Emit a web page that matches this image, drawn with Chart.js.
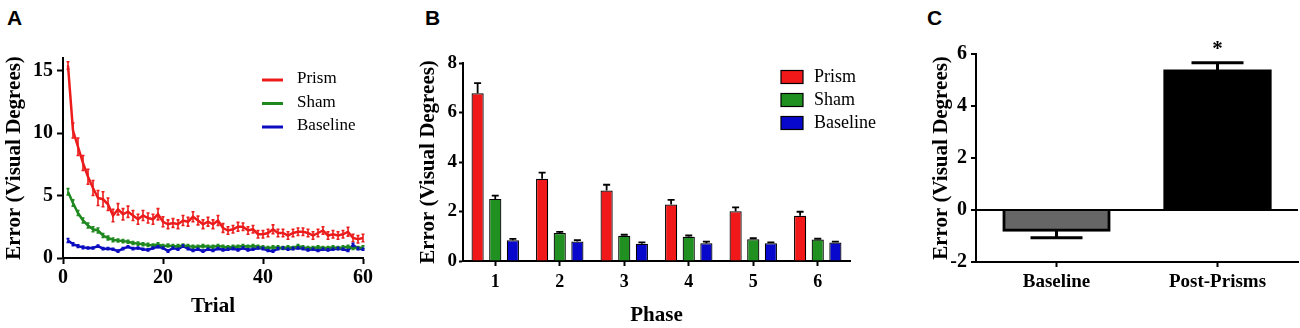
<!DOCTYPE html>
<html><head><meta charset="utf-8">
<script src="https://cdn.jsdelivr.net/npm/chart.js@4.4.1/dist/chart.umd.min.js"></script>
<style>
body{margin:0;background:#fff;width:1300px;height:328px;position:relative;overflow:hidden}
canvas{position:absolute;top:0}
.lbl{position:absolute;font:bold 21px "Liberation Sans",Arial,sans-serif;line-height:21px;color:#000}
</style></head><body>
<div class="lbl" style="left:7px;top:7px">A</div>
<div class="lbl" style="left:425px;top:7px">B</div>
<div class="lbl" style="left:927px;top:7px">C</div>
<canvas id="cA" width="380" height="328" style="left:0"></canvas>
<canvas id="cB" width="490" height="328" style="left:410px"></canvas>
<canvas id="cC" width="400" height="328" style="left:900px"></canvas>
<script>
// ---------- Panel A data ----------
const trials = [1,2,3,4,5,6,7,8,9,10,11,12,13,14,15,16,17,18,19,20,21,22,23,24,25,26,27,28,29,30,31,32,33,34,35,36,37,38,39,40,41,42,43,44,45,46,47,48,49,50,51,52,53,54,55,56,57,58,59,60];
const prism = [15.4,10.2,8.9,7.6,6.5,5.6,4.8,4.7,4.3,3.4, 3.9,3.5,3.7,3.4,3.1,3.4,3.2,3.1,3.5,2.9, 2.7,2.8,2.7,3.0,2.9,3.3,3.0,2.7,2.9,2.7, 3.0,2.4,2.2,2.3,2.5,2.5,2.2,2.3,1.9,1.9, 2.0,2.3,2.0,2.0,1.8,2.0,2.1,2.1,2.0,1.8, 2.0,2.2,1.8,1.9,1.8,1.9,2.1,1.6,1.5,1.6];
const prismErr = [0.3,0.6,0.7,0.6,0.6,0.6,0.6,0.6,0.5,0.5, 0.45,0.45,0.45,0.4,0.4,0.4,0.4,0.4,0.45,0.4, 0.35,0.35,0.35,0.4,0.35,0.4,0.35,0.35,0.35,0.35, 0.4,0.35,0.3,0.3,0.35,0.3,0.3,0.3,0.3,0.3, 0.3,0.35,0.3,0.3,0.3,0.3,0.3,0.3,0.3,0.3, 0.3,0.3,0.3,0.3,0.3,0.3,0.35,0.3,0.3,0.3];
const sham = [5.3,4.4,3.6,3.0,2.6,2.3,2.2,1.8,1.6,1.45, 1.4,1.35,1.3,1.2,1.15,1.1,1.05,1.0,1.1,0.95, 1.0,0.95,0.95,1.0,0.95,0.9,0.9,0.95,0.9,0.9, 0.95,0.9,0.85,0.9,0.9,0.95,0.9,0.95,0.9,0.85, 0.8,0.85,0.85,0.8,0.85,0.8,0.95,0.85,0.8,0.8, 0.85,0.8,0.8,0.85,0.8,0.85,0.9,0.8,0.8,0.85];
const shamErr = [0.25,0.25,0.2,0.2,0.2,0.2,0.2,0.15,0.15,0.15, 0.12,0.12,0.12,0.12,0.12,0.12,0.12,0.12,0.12,0.12, 0.12,0.12,0.12,0.12,0.12,0.12,0.12,0.12,0.12,0.12, 0.12,0.12,0.12,0.12,0.12,0.12,0.12,0.12,0.12,0.12, 0.12,0.12,0.12,0.12,0.12,0.12,0.12,0.12,0.12,0.12, 0.12,0.12,0.12,0.12,0.12,0.12,0.12,0.12,0.12,0.12];
const baseline = [1.4,1.1,0.95,0.85,0.8,0.8,0.95,0.75,0.75,0.7, 0.55,0.75,0.9,0.75,0.8,0.7,0.65,0.8,0.9,0.8, 0.55,0.8,0.7,0.95,0.75,0.6,0.7,0.55,0.7,0.6, 0.75,0.65,0.7,0.75,0.65,0.8,0.65,0.7,0.8,0.75, 0.6,0.55,0.75,0.8,0.7,0.75,0.8,0.75,0.65,0.7, 0.6,0.7,0.65,0.7,0.75,0.7,0.6,1.05,0.75,0.7];
const baselineErr = [0.15,0.12,0.1,0.1,0.08,0.08,0.08,0.08,0.08,0.08, 0.08,0.08,0.08,0.08,0.08,0.08,0.08,0.08,0.08,0.08, 0.08,0.08,0.08,0.08,0.08,0.08,0.08,0.08,0.08,0.08, 0.08,0.08,0.08,0.08,0.08,0.08,0.08,0.08,0.08,0.08, 0.08,0.08,0.08,0.08,0.08,0.08,0.08,0.08,0.08,0.08, 0.08,0.08,0.08,0.08,0.08,0.08,0.08,0.12,0.08,0.08];
const yTicksA = [0,5,10,15];
const xTicksA = [0,20,40,60];

// ---------- Panel B data ----------
const phases = ['1','2','3','4','5','6'];
const phasePrism = [6.78,3.32,2.85,2.28,2.01,1.83];
const phasePrismErr = [0.41,0.25,0.23,0.19,0.16,0.16];
const phaseSham = [2.51,1.13,1.02,0.98,0.88,0.87];
const phaseShamErr = [0.13,0.05,0.04,0.05,0.04,0.03];
const phaseBaseline = [0.84,0.79,0.70,0.72,0.72,0.75];
const phaseBaselineErr = [0.05,0.05,0.05,0.06,0.03,0.03];

// ---------- Panel C data ----------
const conditions = ['Baseline','Post-Prisms'];
const condValues = [-0.80, 5.37];
const condErr = [0.27, 0.29];
const condSig = ['', '*'];

const seriesNames = ['Prism','Sham','Baseline'];
const RED = '#ec1c1c', GREEN = '#1f891f', BLUE = '#0c0cc0';
const SERIF = '"Liberation Serif","Times New Roman",serif';
Chart.defaults.color = '#000';
Chart.defaults.animation = false;

const errorBarPlugin = {
  id: 'errorBars',
  afterDatasetsDraw(chart, args, opts) {
    const ctx = chart.ctx, ys = chart.scales.y;
    chart.data.datasets.forEach((ds, i) => {
      if (!ds.errors) return;
      const meta = chart.getDatasetMeta(i);
      ctx.save();
      ctx.strokeStyle = opts.color || ds.borderColor;
      ctx.lineWidth = opts.lineWidth;
      meta.data.forEach((el, j) => {
        const raw = ds.data[j];
        const v = (typeof raw === 'object') ? raw.y : raw;
        const e = ds.errors[j];
        if (!e) return;
        const x = el.x, hw = opts.capWidth / 2;
        let y1, y2;
        if (opts.mode === 'both') { y1 = ys.getPixelForValue(v - e); y2 = ys.getPixelForValue(v + e); }
        else { y1 = ys.getPixelForValue(v); y2 = ys.getPixelForValue(v + Math.sign(v) * e); }
        ctx.beginPath();
        ctx.moveTo(x, y1); ctx.lineTo(x, y2);
        ctx.moveTo(x - hw, y2); ctx.lineTo(x + hw, y2);
        if (opts.mode === 'both') { ctx.moveTo(x - hw, y1); ctx.lineTo(x + hw, y1); }
        ctx.stroke();
      });
      ctx.restore();
    });
  }
};

const legendPlugin = {
  id: 'customLegend',
  afterDraw(chart, args, opts) {
    if (!opts.show) return;
    const ctx = chart.ctx;
    ctx.save();
    ctx.font = opts.fontSize + 'px ' + SERIF;
    ctx.textBaseline = 'middle';
    chart.data.datasets.forEach((ds, i) => {
      const y = opts.y + i * opts.rowHeight;
      if (opts.kind === 'line') {
        ctx.strokeStyle = ds.borderColor; ctx.lineWidth = 3;
        ctx.beginPath(); ctx.moveTo(opts.x, y + 1); ctx.lineTo(opts.x + opts.symbolWidth, y + 1); ctx.stroke();
      } else {
        ctx.fillStyle = ds.backgroundColor;
        ctx.fillRect(opts.x, y - opts.symbolHeight / 2, opts.symbolWidth, opts.symbolHeight);
        ctx.strokeStyle = '#000'; ctx.lineWidth = 1.2;
        ctx.strokeRect(opts.x, y - opts.symbolHeight / 2, opts.symbolWidth, opts.symbolHeight);
      }
      ctx.fillStyle = '#000';
      ctx.fillText(ds.label, opts.textX, y);
    });
    ctx.restore();
  }
};

const sigPlugin = {
  id: 'sigMarks',
  afterDatasetsDraw(chart, args, opts) {
    if (!opts.show) return;
    const ctx = chart.ctx, ys = chart.scales.y;
    const ds = chart.data.datasets[0];
    const meta = chart.getDatasetMeta(0);
    ctx.save();
    ctx.font = 'bold 21px ' + SERIF;
    ctx.textAlign = 'center';
    ctx.textBaseline = 'alphabetic';
    ctx.fillStyle = '#000';
    meta.data.forEach((el, j) => {
      const mark = ds.sig[j];
      if (!mark) return;
      const top = ys.getPixelForValue(ds.data[j] + ds.errors[j]);
      ctx.fillText(mark, el.x, top - opts.offset);
    });
    ctx.restore();
  }
};

function tickFont(size) { return { family: SERIF, size: size, weight: 'bold' }; }
function axisCommon(tickLen) {
  return {
    grid: { drawOnChartArea: false, drawTicks: true, tickLength: tickLen, tickWidth: 2, tickColor: '#000', offset: false },
    border: { display: true, color: '#000', width: 2 }
  };
}

// ---------- Chart A ----------
new Chart(document.getElementById('cA'), {
  type: 'line',
  data: {
    datasets: [
      { label: seriesNames[0], data: trials.map((t, i) => ({ x: t, y: prism[i] })), errors: prismErr, borderColor: RED, borderWidth: 2.5, pointRadius: 0, tension: 0 },
      { label: seriesNames[1], data: trials.map((t, i) => ({ x: t, y: sham[i] })), errors: shamErr, borderColor: GREEN, borderWidth: 2.5, pointRadius: 0, tension: 0 },
      { label: seriesNames[2], data: trials.map((t, i) => ({ x: t, y: baseline[i] })), errors: baselineErr, borderColor: BLUE, borderWidth: 2.5, pointRadius: 0, tension: 0 }
    ]
  },
  options: {
    responsive: false,
    layout: { padding: { left: 0, right: 17, top: 58, bottom: 0 } },
    plugins: {
      legend: { display: false }, tooltip: { enabled: false },
      errorBars: { mode: 'both', capWidth: 3, lineWidth: 1.6 },
      customLegend: { show: true, kind: 'line', x: 262, y: 79, rowHeight: 23.5, symbolWidth: 21, textX: 297, fontSize: 17 }
    },
    scales: {
      x: Object.assign(axisCommon(6), {
        type: 'linear', min: 0, max: 60,
        afterBuildTicks: s => { s.ticks = xTicksA.map(v => ({ value: v })); },
        ticks: { padding: 2, font: tickFont(20), maxRotation: 0 },
        title: { display: true, text: 'Trial', font: tickFont(21), padding: { top: 0, bottom: 9 } },
        afterFit: s => { s.height = 70; }
      }),
      y: Object.assign(axisCommon(6), {
        min: 0, max: 16,
        afterBuildTicks: s => { s.ticks = yTicksA.map(v => ({ value: v })); },
        ticks: { padding: 4, font: tickFont(20) },
        title: { display: true, text: 'Error (Visual Degrees)', font: tickFont(21), padding: { top: 2, bottom: 0 } },
        afterFit: s => { s.width = 63; }
      })
    }
  },
  plugins: [errorBarPlugin, legendPlugin]
});

// ---------- Chart B ----------
new Chart(document.getElementById('cB'), {
  type: 'bar',
  data: {
    labels: phases,
    datasets: [
      { label: seriesNames[0], data: phasePrism, errors: phasePrismErr, backgroundColor: '#f01818' },
      { label: seriesNames[1], data: phaseSham, errors: phaseShamErr, backgroundColor: '#209020' },
      { label: seriesNames[2], data: phaseBaseline, errors: phaseBaselineErr, backgroundColor: '#0808cc' }
    ]
  },
  options: {
    responsive: false,
    datasets: { bar: { categoryPercentage: 0.82, barPercentage: 0.69, borderColor: '#000', borderWidth: 1.2 } },
    layout: { padding: { left: 0, right: 50, top: 63, bottom: 0 } },
    plugins: {
      legend: { display: false }, tooltip: { enabled: false },
      errorBars: { mode: 'outward', capWidth: 7, lineWidth: 1.8, color: '#000' },
      customLegend: { show: true, kind: 'box', x: 371, y: 77, rowHeight: 23, symbolWidth: 22, symbolHeight: 13, textX: 404, fontSize: 18 }
    },
    scales: {
      x: Object.assign(axisCommon(5), {
        ticks: { padding: 6, font: tickFont(18) },
        title: { display: true, text: 'Phase', font: tickFont(21), padding: { top: 0, bottom: 0 } },
        afterFit: s => { s.height = 67; }
      }),
      y: Object.assign(axisCommon(4), {
        min: 0, max: 8,
        ticks: { stepSize: 2, padding: 2, font: tickFont(19) },
        title: { display: true, text: 'Error (Visual Degrees)', font: tickFont(21), padding: { top: 6, bottom: 0 } },
        afterFit: s => { s.width = 53; }
      })
    }
  },
  plugins: [errorBarPlugin, legendPlugin]
});

// ---------- Chart C ----------
const axC = axisCommon(5);
axC.grid.drawOnChartArea = true;
axC.grid.lineWidth = 2;
axC.grid.color = c => (c.tick && c.tick.value === 0 ? '#000' : 'rgba(0,0,0,0)');
new Chart(document.getElementById('cC'), {
  type: 'bar',
  data: {
    labels: conditions,
    datasets: [
      { label: 'Error', data: condValues, errors: condErr, sig: condSig, backgroundColor: ['#666666', '#000000'], borderColor: '#000', borderWidth: [3, 0], inflateAmount: 1, categoryPercentage: 1, barPercentage: 0.66 }
    ]
  },
  options: {
    responsive: false,
    layout: { padding: { left: 0, right: 2, top: 54, bottom: 0 } },
    plugins: {
      legend: { display: false }, tooltip: { enabled: false },
      errorBars: { mode: 'outward', capWidth: 52, lineWidth: 3, color: '#000' },
      sigMarks: { show: true, offset: 8 }
    },
    scales: {
      x: Object.assign(axisCommon(5), {
        ticks: { padding: 4, font: tickFont(19) },
        afterFit: s => { s.height = 66; }
      }),
      y: Object.assign(axC, {
        min: -2, max: 6,
        ticks: { stepSize: 2, padding: 4, font: tickFont(20) },
        title: { display: true, text: 'Error (Visual Degrees)', font: tickFont(21), padding: { top: 29, bottom: 0 } },
        afterFit: s => { s.width = 76; }
      })
    }
  },
  plugins: [errorBarPlugin, sigPlugin]
});
</script>
</body></html>
